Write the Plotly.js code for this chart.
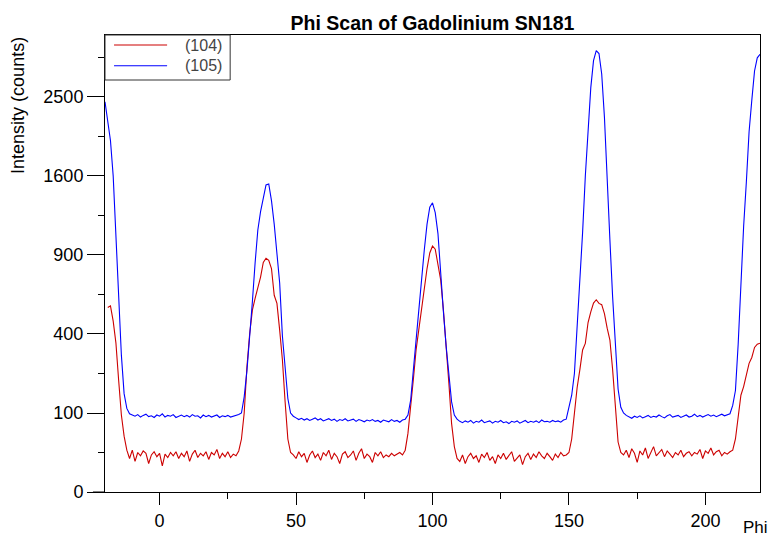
<!DOCTYPE html>
<html>
<head>
<meta charset="utf-8">
<script src="https://cdn.plot.ly/plotly-3.0.1.min.js"></script>
<style>html,body{margin:0;padding:0;background:#fff;}#chart{width:771px;height:537px;}</style>
</head>
<body>
<div id="chart"></div>
<script>
// ---- data (phi in degrees, intensity in counts) ----
const phi105 = [-20,-19,-18,-17,-16,-15,-14,-13,-12,-11,-10,
-9,-8,-7,-6,-5,-4,-3,-2,-1,0,1,2,3,4,5,6,7,8,9,10,11,12,13,14,15,16,17,18,19,20,21,22,23,24,25,26,27,28,29,
30,31,32,33,34,35,36,37,38,39,40,41,42,43,44,45,46,47,48,49,
50,51,52,53,54,55,56,57,58,59,60,61,62,63,64,65,66,67,68,69,70,71,72,73,74,75,76,77,78,79,80,81,82,83,84,85,86,87,88,89,90,
91,92,93,94,95,96,97,98,99,100,101,102,103,104,105,106,107,108,109,
110,111,112,113,114,115,116,117,118,119,120,121,122,123,124,125,126,127,128,129,130,131,132,133,134,135,136,137,138,139,140,141,142,143,144,145,146,147,148,149,
150,151,152,153,154,155,156,157,158,159,160,161,162,163,164,165,166,167,168,169,170,
171,172,173,174,175,176,177,178,179,180,181,182,183,184,185,186,187,188,189,190,191,192,193,194,195,196,197,198,199,200,201,202,203,204,205,206,207,208,209,
210,211,212,213,214,215,216,217,218,219,220];
const int105 = [2440,2220,1980,1600,1070,560,300,155,112,98,95,
92,96,90,94,97,91,93,89,95,92,98,90,94,92,96,89,93,95,91,94,90,96,92,93,88,95,91,94,90,92,95,89,93,91,94,90,92,93,96,
100,145,235,370,580,840,1100,1260,1380,1510,1520,1360,1150,920,700,390,240,140,100,92,
88,84,87,83,86,82,85,88,83,86,81,84,86,82,85,80,84,82,86,81,83,85,80,84,82,79,83,81,84,80,82,78,83,81,79,84,80,82,78,83,85,
95,135,240,380,560,760,940,1150,1300,1340,1250,1070,750,520,340,210,130,95,85,
80,77,81,78,82,76,80,78,83,77,79,81,76,80,78,82,77,79,75,80,78,81,76,79,82,77,80,78,81,77,83,79,80,78,82,79,81,78,83,85,
115,150,225,430,680,1080,1600,2150,2620,2980,3120,3080,2800,2250,1650,1020,610,330,170,115,100,
94,90,87,92,89,93,88,91,94,89,92,90,95,91,88,93,96,90,92,94,89,93,95,90,92,97,91,94,90,93,96,92,95,91,94,97,93,95,98,
120,165,350,720,1130,1540,2080,2460,2840,3020,3070];

const phi104 = [-19,-18,-17,-16,-15,-14,-13,-12,-11,
-10,-9,-8,-7,-6,-5,-4,-3,-2,-1,0,1,2,3,4,5,6,7,8,9,10,11,12,13,14,15,16,17,18,19,20,21,22,23,24,25,26,27,28,29,
30,31,32,33,34,35,36,37,38,39,40,41,42,43,44,45,46,47,48,49,
50,51,52,53,54,55,56,57,58,59,60,61,62,63,64,65,66,67,68,69,70,71,72,73,74,75,76,77,78,79,80,81,82,83,84,85,86,87,88,89,90,
91,92,93,94,95,96,97,98,99,100,101,102,103,104,105,106,107,108,109,
110,111,112,113,114,115,116,117,118,119,120,121,122,123,124,125,126,127,128,129,130,131,132,133,134,135,136,137,138,139,140,141,142,143,144,145,146,147,148,149,
150,151,152,153,154,155,156,157,158,159,160,161,162,163,164,165,166,167,168,169,170,
171,172,173,174,175,176,177,178,179,180,181,182,183,184,185,186,187,188,189,190,191,192,193,194,195,196,197,198,199,200,201,202,203,204,205,206,207,208,209,
210,211,212,213,214,215,216,217,218,219,220];
const int104 = [545,555,468,356,200,95,50,28,18,
28,15,25,21,27,24,13,22,26,20,24,11,23,19,25,21,26,18,24,20,27,15,23,28,19,24,21,26,17,25,22,29,18,24,20,26,19,23,21,27,
45,100,250,400,530,600,665,740,845,875,860,800,620,570,420,280,130,45,25,22,
18,26,20,24,14,22,27,19,23,16,25,21,28,17,24,20,13,23,26,19,22,27,16,24,30,18,23,20,14,25,21,26,19,22,20,24,21,23,25,22,28,
55,110,205,325,430,535,660,800,915,970,945,840,720,530,350,190,75,33,18,
15,22,13,20,24,18,21,14,23,19,25,16,20,13,22,18,24,17,21,26,15,19,22,12,20,24,17,23,19,26,21,18,24,20,16,23,19,25,21,22,
25,45,100,175,240,323,354,460,520,572,592,570,562,510,430,370,240,110,40,25,22,
28,19,30,24,14,27,22,31,18,26,33,21,25,29,20,27,23,19,25,22,28,20,24,26,21,25,23,29,18,27,24,31,22,26,28,21,25,23,26,
28,45,95,150,178,225,265,290,335,350,355];

const seriesNames = ['(104)', '(105)'];
const seriesColors = ['#cc0000', '#0000ff'];
const yTickCounts = [0, 100, 400, 900, 1600, 2500];
const yMinorCounts = [25, 225, 625, 1225, 2025, 3025];
const yMaxCounts = 3346;
const xRange = [-20, 220];

// square-root intensity axis: map counts through sqrt, label with counts
const sq = a => a.map(v => Math.sqrt(v));
const FONT = 'Liberation Sans, Arial, Helvetica, sans-serif';

const traces = [
  {x: phi104, y: sq(int104), name: seriesNames[0], type: 'scatter', mode: 'lines',
   line: {color: seriesColors[0], width: 1.1}},
  {x: phi105, y: sq(int105), name: seriesNames[1], type: 'scatter', mode: 'lines',
   line: {color: seriesColors[1], width: 1.1}}
];

// boxed legend in the top-left corner of the plot (paper coordinates)
const legendRows = [0.9781, 0.9328];
const legendShapes = [
  {type: 'rect', xref: 'paper', yref: 'paper', x0: 0, x1: 0.1911, y0: 0.9015, y1: 1,
   fillcolor: '#fff', line: {color: '#333', width: 1}, layer: 'above'}
].concat(legendRows.map((yy, i) => ({
  type: 'line', xref: 'paper', yref: 'paper', x0: 0.0138, x1: 0.0948, y0: yy, y1: yy,
  line: {color: seriesColors[i], width: 1.1}, layer: 'above'})));
const legendTexts = legendRows.map((yy, i) => ({
  text: seriesNames[i], xref: 'paper', yref: 'paper', x: 0.1498, y: yy, xanchor: 'center', yanchor: 'middle',
  showarrow: false, font: {family: FONT, size: 16, color: '#444'}}));

const layout = {
  width: 771, height: 537,
  margin: {l: 105, r: 11, t: 35, b: 45, pad: 0},
  paper_bgcolor: '#fff', plot_bgcolor: '#fff',
  font: {family: FONT, size: 18, color: '#000'},
  title: {text: '<b>Phi Scan of Gadolinium SN181</b>', font: {family: FONT, size: 19.5, color: '#000'},
          xref: 'paper', x: 0.5, xanchor: 'center', yref: 'container', y: 1 - 23/537, yanchor: 'middle'},
  showlegend: false,
  xaxis: {range: xRange, tick0: 0, dtick: 50, ticks: 'outside', ticklen: 12, tickwidth: 1, tickcolor: '#000',
          showline: true, linecolor: '#000', linewidth: 1, mirror: true, showgrid: false, zeroline: false,
          tickfont: {family: FONT, size: 18, color: '#000'},
          minor: {tick0: 0, dtick: 25, ticks: 'outside', ticklen: 6, tickwidth: 1, tickcolor: '#000', showgrid: false}},
  yaxis: {range: [0, Math.sqrt(yMaxCounts)], tickmode: 'array', tickvals: sq(yTickCounts), ticktext: yTickCounts.map(String),
          ticks: 'outside', ticklen: 17, tickwidth: 1, tickcolor: '#000',
          showline: true, linecolor: '#000', linewidth: 1, mirror: true, showgrid: false, zeroline: false,
          tickfont: {family: FONT, size: 18, color: '#000'},
          minor: {tickmode: 'array', tickvals: sq(yMinorCounts), ticks: 'outside', ticklen: 6, tickwidth: 1, tickcolor: '#000', showgrid: false}},
  annotations: [
    {text: 'Phi', xref: 'paper', yref: 'paper', x: 0.9925, y: -0.078, xanchor: 'center', yanchor: 'middle',
     showarrow: false, font: {family: FONT, size: 17, color: '#000'}},
    {text: 'Intensity (counts)', xref: 'paper', yref: 'paper', x: -0.132, y: 0.846, xanchor: 'center', yanchor: 'middle',
     textangle: -90, showarrow: false, font: {family: FONT, size: 18, color: '#000'}}
  ].concat(legendTexts),
  shapes: [
    {type: 'line', xref: 'paper', yref: 'paper', x0: -0.0184, x1: 0, y0: 0, y1: 0, line: {color: '#000', width: 1}}
  ].concat(legendShapes)
};

Plotly.newPlot('chart', traces, layout, {displayModeBar: false, staticPlot: true});
</script>
</body>
</html>
